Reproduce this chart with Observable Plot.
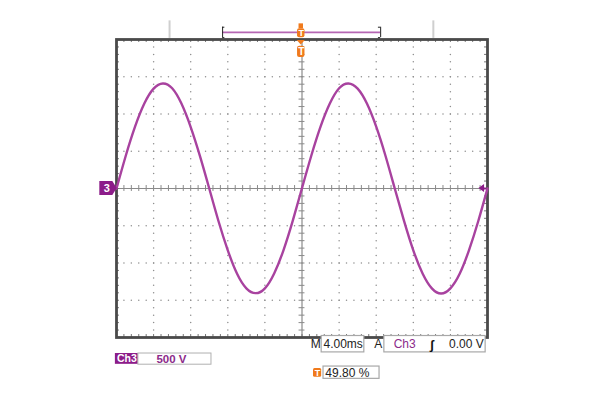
<!DOCTYPE html>
<html><head><meta charset="utf-8">
<script src="https://cdn.jsdelivr.net/npm/d3@7"></script>
<script src="https://cdn.jsdelivr.net/npm/@observablehq/plot@0.6"></script>
<style>
body{margin:0;background:#fff;font-family:"Liberation Sans",Arial,sans-serif}
#chart svg{display:block}
</style>
</head><body><div id="chart"></div>
<script>
// Waveform samples (time in ms, voltage in V)
const timeMs = [0,1,2,3,4,5,6,7,8,9,10,11,12,13,14,15,16,17,18,19,20,21,22,23,24,25,26,27,28,29,30,31,32,33,34,35,36,37,38,39,40];
const volts  = [0,440,830,1140,1340,1410,1345,1140,825,435,0,-440,-830,-1145,-1340,-1405,-1340,-1140,-830,-435,5,440,830,1140,1345,1410,1340,1140,830,440,0,-435,-830,-1140,-1340,-1410,-1340,-1145,-830,-440,0];

// Scope settings (readouts)
const msPerDiv = 4;        // M 4.00ms
const voltsPerDiv = 500;   // Ch3 500 V
const triggerLevel = 0;    // 0.00 V
const triggerPos = 49.80;  // %
const xDivs = [0,1,2,3,4,5,6,7,8,9,10];
const yDivs = [-4,-3,-2,-1,0,1,2,3,4];
const readoutTimebase = "4.00ms";
const readoutChannel = "Ch3";
const readoutTrigLevel = "0.00 V";
const readoutScale = "500 V";
const readoutTrigPos = "49.80 %";

const trace = timeMs.map((t, i) => ({t, v: volts[i]}));

const trPurple = "#a8429f";
const tagPurple = "#8c1c89";
const orange = "#f07a1c";
const gridGray = "#8f8f8f";
const frameGray = "#4a4a4a";
const font = "Liberation Sans, Arial, sans-serif";

const minor = (a, b) => d3.range(Math.round((b - a) / 0.2) + 1).map(i => a + i * 0.2);
const minorX = minor(0, 10);
const minorY = minor(-4, 4);

// dotted graticule lines
const gridDots = [];
for (const gx of xDivs) if (gx !== 0 && gx !== 5 && gx !== 10) for (const my of minorY) gridDots.push({x: gx, y: my});
for (const gy of yDivs) if (gy !== 0 && Math.abs(gy) !== 4) for (const mx of minorX) gridDots.push({x: mx, y: gy});

const tPos = triggerPos / 100 * 10; // trigger position in divisions

const chart = Plot.plot({
  width: 600, height: 400,
  marginLeft: 116, marginRight: 113, marginTop: 39, marginBottom: 63,
  x: {domain: [0, 10], axis: null},
  y: {domain: [-4, 4], axis: null},
  style: {fontFamily: font, background: "#fff", overflow: "visible"},
  marks: [
    Plot.dot(gridDots, {x: "x", y: "y", r: 0.75, fill: gridGray, stroke: null}),
    // center cross with minor ticks
    Plot.ruleX([5], {stroke: "#8a8a8a", strokeWidth: 1.2}),
    Plot.ruleY([0], {stroke: "#8a8a8a", strokeWidth: 1.2}),
    Plot.ruleX(minorX, {x: d => d, y1: -0.08, y2: 0.08, stroke: "#8a8a8a"}),
    Plot.ruleY(minorY, {y: d => d, x1: 4.92, x2: 5.08, stroke: "#8a8a8a"}),
    // frame ticks
    Plot.ruleX(minorX, {x: d => d, y1: 4, y2: 3.92, stroke: "#777"}),
    Plot.ruleX(minorX, {x: d => d, y1: -4, y2: -3.92, stroke: "#777"}),
    Plot.ruleY(minorY, {y: d => d, x1: 0, x2: 0.08, stroke: "#777"}),
    Plot.ruleY(minorY, {y: d => d, x1: 10, x2: 9.92, stroke: "#777"}),
    Plot.frame({stroke: frameGray, strokeWidth: 2.8}),
    // waveform
    Plot.line(trace, {x: d => d.t / msPerDiv, y: d => d.v / voltsPerDiv, stroke: trPurple, strokeWidth: 2.4, curve: "natural"}),

    // top record bar
    Plot.ruleX([1.43, 8.54], {x: d => d, y1: 4.03, y2: 4.5, stroke: "#cfcfcf", strokeWidth: 2}),
    Plot.ruleY([4.19], {y: d => d, x1: 2.86, x2: 7.12, stroke: "#b566b3", strokeWidth: 1.6}),
    Plot.ruleX([2.86, 7.12], {x: d => d, y1: 4.05, y2: 4.33, stroke: "#222", strokeWidth: 1}),
    Plot.ruleY([4.05, 4.33], {y: d => d, x1: 2.86, x2: 2.92, stroke: "#222", strokeWidth: 1}),
    Plot.ruleY([4.05, 4.33], {y: d => d, x1: 7.06, x2: 7.12, stroke: "#222", strokeWidth: 1}),
    Plot.rect([tPos], {x1: d => d - 0.1, x2: d => d + 0.1, y1: 4.05, y2: 4.29, fill: orange, rx: 2}),
    Plot.rect([tPos], {x1: d => d - 0.06, x2: d => d + 0.06, y1: 4.29, y2: 4.42, fill: orange}),
    Plot.text([tPos], {x: d => d, y: 4.17, text: () => "T", fill: "#fff", fontSize: 9, fontWeight: "bold"}),
    // trigger position marker below top edge
    Plot.areaY([{x: tPos - 0.11, a: 3.97, b: 3.97}, {x: tPos, a: 3.85, b: 3.97}, {x: tPos + 0.11, a: 3.97, b: 3.97}],
      {x: "x", y1: "a", y2: "b", fill: orange, curve: "linear"}),
    Plot.rect([tPos], {x1: d => d - 0.1, x2: d => d + 0.1, y1: 3.52, y2: 3.82, fill: orange, rx: 2}),
    Plot.text([tPos], {x: d => d, y: 3.67, text: () => "T", fill: "#fff", fontSize: 10, fontWeight: "bold"}),

    // channel 3 ground marker
    Plot.areaY([{x: -0.45, a: -0.19, b: 0.19}, {x: -0.1, a: -0.19, b: 0.19}, {x: 0.02, a: 0, b: 0}],
      {x: "x", y1: "a", y2: "b", fill: tagPurple, curve: "linear"}),
    Plot.text([readoutChannel], {x: -0.26, y: 0, text: d => d.slice(2), fill: "#fff", fontSize: 11, fontWeight: "bold"}),
    // trigger level marker on right
    Plot.areaY([{x: 9.77, a: triggerLevel, b: triggerLevel}, {x: 9.92, a: -0.11, b: 0.11}],
      {x: "x", y1: "a", y2: "b", fill: tagPurple, curve: "linear"}),
    Plot.ruleY([triggerLevel / voltsPerDiv], {x1: 9.9, x2: 9.97, stroke: tagPurple, strokeWidth: 2}),

    // readouts
    Plot.rect([0], {x1: 5.53, x2: 6.68, y1: -3.96, y2: -4.4, fill: "#fff", stroke: "#a8a8a8", strokeWidth: 1.2}),
    Plot.rect([0], {x1: 7.22, x2: 9.95, y1: -3.96, y2: -4.4, fill: "#fff", stroke: "#a8a8a8", strokeWidth: 1.2}),
    Plot.text(["M"], {x: 5.53, y: -4.19, text: d => d, textAnchor: "end", dx: -1, fontSize: 12, fill: "#222"}),
    Plot.text([readoutTimebase], {x: 5.58, y: -4.19, text: d => d, textAnchor: "start", fontSize: 12, fill: "#222"}),
    Plot.text(["A"], {x: 7.22, y: -4.19, text: d => d, textAnchor: "end", dx: -2, fontSize: 12, fill: "#222"}),
    Plot.text([readoutChannel], {x: 7.47, y: -4.19, text: d => d, textAnchor: "start", fontSize: 12, fill: "#8c2a8a"}),
    Plot.text(["ʃ"], {x: 8.5, y: -4.19, text: d => d, fontSize: 13, fontWeight: "bold", fill: "#111"}),
    Plot.text([readoutTrigLevel], {x: 9.9, y: -4.19, text: d => d, textAnchor: "end", fontSize: 12, fill: "#222"}),

    Plot.rect([0], {x1: -0.03, x2: 0.59, y1: -4.43, y2: -4.72, fill: tagPurple}),
    Plot.text([readoutChannel], {x: 0.28, y: -4.58, text: d => d, fontSize: 10.5, fontWeight: "bold", fill: "#fff"}),
    Plot.rect([0], {x1: 0.59, x2: 2.56, y1: -4.43, y2: -4.73, fill: "#fff", stroke: "#b0b0b0"}),
    Plot.text([readoutScale], {x: 1.48, y: -4.58, text: d => d, fontSize: 11.5, fontWeight: "bold", fill: "#8c2a8a"}),

    Plot.rect([0], {x1: 5.31, x2: 5.53, y1: -4.83, y2: -5.07, fill: orange, rx: 1.5}),
    Plot.text(["T"], {x: 5.42, y: -4.95, text: d => d, fontSize: 9, fontWeight: "bold", fill: "#fff"}),
    Plot.rect([0], {x1: 5.58, x2: 7.09, y1: -4.78, y2: -5.11, fill: "#fff", stroke: "#a8a8a8", strokeWidth: 1.2}),
    Plot.text([readoutTrigPos], {x: 5.63, y: -4.95, text: d => d, textAnchor: "start", fontSize: 12, fill: "#222"})
  ]
});
document.getElementById("chart").append(chart);
</script>
</body></html>
